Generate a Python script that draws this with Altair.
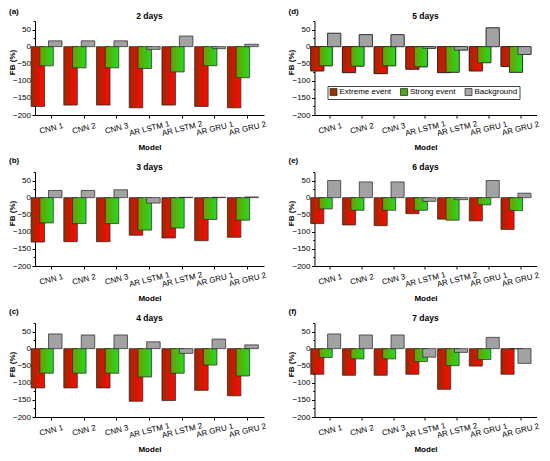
import altair as alt
import pandas as pd

FONT = "Liberation Sans"

MODELS = ["CNN 1", "CNN 2", "CNN 3", "AR LSTM 1", "AR LSTM 2", "AR GRU 1", "AR GRU 2"]
SERIES = ["Extreme event", "Strong event", "Background"]

# 2 days
E2 = [-175, -171, -171, -179, -171, -175, -179]
S2 = [-56, -62, -62, -64, -74, -56, -91]
B2 = [17, 17, 17, -8, 31, -6, 7]
# 3 days
E3 = [-130, -129, -129, -110, -118, -126, -116]
S3 = [-74, -76, -76, -95, -89, -64, -66]
B3 = [21, 21, 23, -16, 1, 1, 2]
# 4 days
E4 = [-115, -115, -115, -154, -152, -122, -138]
S4 = [-72, -72, -72, -83, -72, -48, -80]
B4 = [43, 40, 40, 20, -14, 28, 11]
# 5 days
E5 = [-71, -76, -79, -66, -76, -71, -58]
S5 = [-56, -57, -56, -59, -75, -47, -75]
B5 = [39, 35, 35, -5, -10, 55, -23]
# 6 days
E6 = [-76, -80, -82, -47, -63, -68, -93]
S6 = [-33, -37, -37, -37, -66, -21, -38]
B6 = [50, 46, 46, -11, -6, 50, 13]
# 7 days
E7 = [-75, -78, -78, -75, -119, -51, -75]
S7 = [-26, -30, -30, -38, -50, -32, -1]
B7 = [43, 40, 40, -25, -11, 33, -43]

Y_TICKS = [-200, -175, -150, -125, -100, -75, -50, -25, 0, 25, 50, 75]
LEGEND_COLORS = ["#9A3300", "#4FA81A", "#A8A8A8"]


def grad(c0, c1):
    return alt.Gradient(
        gradient="linear",
        stops=[alt.GradientStop(color=c0, offset=0), alt.GradientStop(color=c1, offset=1)],
        x1=0, x2=1, y1=0, y2=0,
    )


FILLS = {
    "Extreme event": grad("#9E2800", "#FF0A00"),
    "Strong event": grad("#6E9A00", "#22DD22"),
    "Background": grad("#A2A2A2", "#A2A2A2"),
}

BAR_W = alt.RelativeBandSize(band=1.55)


def panel(tag, title, e, s, b, width, tag_y, legend=False):
    df = pd.DataFrame({
        "Model": MODELS * 3,
        "Series": [SERIES[0]] * 7 + [SERIES[1]] * 7 + [SERIES[2]] * 7,
        "FB": e + s + b,
    })
    base = alt.Chart(df).encode(
        x=alt.X(
            "Model:N", sort=MODELS,
            scale=alt.Scale(paddingInner=0.2, paddingOuter=0.1),
            axis=alt.Axis(
                title="Model", labelAngle=-14, labelAlign="center", labelBaseline="middle",
                labelPadding=10.5, tickSize=3, labelFontSize=8, titleFontSize=8,
                titleFontWeight="bold", titlePadding=6,
            ),
        ),
        xOffset=alt.XOffset("Series:N", sort=SERIES,
                            scale=alt.Scale(domain=SERIES, paddingInner=0, paddingOuter=0)),
        y=alt.Y(
            "FB:Q", scale=alt.Scale(domain=[-200, 75], nice=False),
            axis=alt.Axis(
                title="FB (%)", values=Y_TICKS,
                labelExpr="datum.value % 50 === 0 && datum.value < 75 ? datum.label : ''",
                tickSize={"condition": {"test": "datum.value % 50 === 0", "value": 3}, "value": 1.8},
                labelFontSize=8, labelPadding=1.5,
                titleFontSize=8, titleFontWeight="bold", titleX=-23, titleY=41,
                titleBaseline="middle",
            ),
        ),
    )
    layers = []
    if legend:
        layers.append(
            base.mark_bar(width=BAR_W, stroke="#222222", strokeWidth=0.7).encode(
                color=alt.Color(
                    "Series:N", sort=SERIES, title=None,
                    scale=alt.Scale(domain=SERIES, range=LEGEND_COLORS),
                    legend=alt.Legend(
                        orient="none", legendX=13, legendY=65, direction="horizontal",
                        symbolType="square", symbolSize=49, symbolStrokeColor="#222222",
                        symbolStrokeWidth=0.7, labelFontSize=8, labelFont=FONT,
                        labelOffset=2, columnPadding=7.5, padding=2, strokeColor="#444444",
                        fillColor="white", labelColor="black",
                    ),
                )
            )
        )
    for sname in SERIES:
        layers.append(
            base.transform_filter(alt.datum.Series == sname).mark_bar(
                width=BAR_W, fill=FILLS[sname], stroke="#222222", strokeWidth=0.7
            )
        )
    txt = pd.DataFrame({"t": [tag]})
    tag_layer = alt.Chart(txt).mark_text(
        align="left", baseline="middle", font=FONT, fontSize=8, fontWeight="bold", color="black"
    ).encode(text="t:N", x=alt.value(-26), y=alt.value(tag_y))
    ttl = pd.DataFrame({"t": [title]})
    title_layer = alt.Chart(ttl).mark_text(
        align="center", baseline="middle", font=FONT, fontSize=8.5, fontWeight="bold", color="black"
    ).encode(text="t:N", x=alt.value(width / 2), y=alt.value(-5.5))
    return alt.layer(*layers, tag_layer, title_layer).properties(width=width, height=94)


LW, RW = 229, 222
pa = panel("(a)", "2 days", E2, S2, B2, LW, -9)
pb = panel("(b)", "3 days", E3, S3, B3, LW, -11.5)
pc = panel("(c)", "4 days", E4, S4, B4, LW, -11.5)
pd_ = panel("(d)", "5 days", E5, S5, B5, RW, -9, legend=True)
pe = panel("(e)", "6 days", E6, S6, B6, RW, -11.5)
pf = panel("(f)", "7 days", E7, S7, B7, RW, -11.5)

rows = [
    alt.hconcat(l, r, spacing=20.5).resolve_scale(color="independent", xOffset="independent")
    for l, r in [(pa, pd_), (pb, pe), (pc, pf)]
]

chart = alt.vconcat(*rows, spacing=4).resolve_scale(
    color="independent", xOffset="independent"
).properties(padding=0).configure(font=FONT).configure_view(strokeWidth=0).configure_axis(
    grid=False, domainColor="black", tickColor="black", labelColor="black", titleColor="black",
    labelFont=FONT, titleFont=FONT, domainWidth=1, tickWidth=1,
)

chart.save("out.html", embed_options={"renderer": "svg", "actions": False})
